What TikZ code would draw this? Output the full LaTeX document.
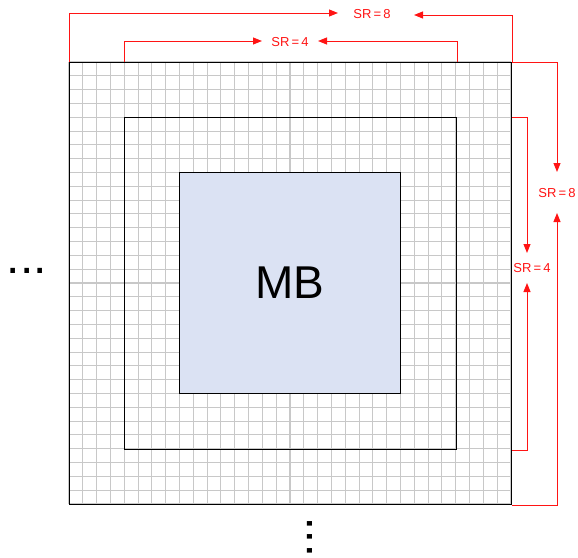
\documentclass[tikz,border=0pt]{standalone}
\usepackage{fontspec}
\setmainfont{Liberation Sans}
\usepackage{tikz}
\usetikzlibrary{calc,arrows.meta}
\definecolor{mbfill}{RGB}{219,226,243}
\definecolor{gridline}{RGB}{200,200,200}
\definecolor{srred}{RGB}{255,20,20}
\tikzset{
  box/.style={draw=black, line width=1pt, inner sep=0pt, anchor=north west},
  srline/.style={draw=srred, line width=1pt, -{Triangle[length=9pt,width=7pt]}},
  srlabel/.style={text=srred, font=\fontsize{13}{15}\selectfont, inner sep=0pt},
  dotsmark/.style={font=\fontsize{48}{48}\selectfont, inner sep=0pt}
}

\begin{document}
\begin{tikzpicture}[x=1pt, y=-1pt]
  \useasboundingbox (0,0) rectangle (578,557);
  % search window grid
  \foreach \i in {0,...,32} {
    \draw[gridline, line width=1.1pt] ({69+\i*13.8125},62) -- ({69+\i*13.8125},504);
    \draw[gridline, line width=1.1pt] (69,{62+\i*13.8125}) -- (511,{62+\i*13.8125});
  }
  \node[box, minimum size=442pt] (outer) at (69,62) {};
  \node[box, minimum size=332pt] (inner) at (124,117) {};
  \node[box, fill=mbfill, minimum size=221pt] (mb) at (179,172) {};
  \node at (mb.center) {\fontsize{46}{46}\selectfont MB};

  % labels
  \node[srlabel] (sr8top) at (372,14) {SR\,=\,8};
  \node[srlabel] (sr4top) at (290,42) {SR\,=\,4};
  \node[srlabel] (sr8right) at (557,193) {SR\,=\,8};
  \node[srlabel] (sr4right) at (532,268) {SR\,=\,4};

  \coordinate (t8l) at (338,13);
  \coordinate (t8r) at (414,15);
  \coordinate (t4l) at (262,41);
  \coordinate (t4r) at (318,41);
  \coordinate (r8t) at (557,172);
  \coordinate (r8b) at (557,213);
  \coordinate (r4t) at (527,253);
  \coordinate (r4b) at (527,283);

  \draw[srline] (outer.north west) |- (t8l);
  \draw[srline] (outer.north east) |- (t8r);
  \draw[srline] (inner.west |- outer.north) |- (t4l);
  \draw[srline] (inner.east |- outer.north) |- (t4r);
  \draw[srline] (outer.north east) -| (r8t);
  \draw[srline] (outer.south east) -| (r8b);
  \draw[srline] (outer.east |- inner.north) -| (r4t);
  \draw[srline] (outer.east |- inner.south) -| (r4b);

  % more windows
  \node[dotsmark] (dotsleft) at (27,271) {...};
  \node[dotsmark, rotate=90] (dotsdown) at (310,537) {...};
\end{tikzpicture}
\end{document}
